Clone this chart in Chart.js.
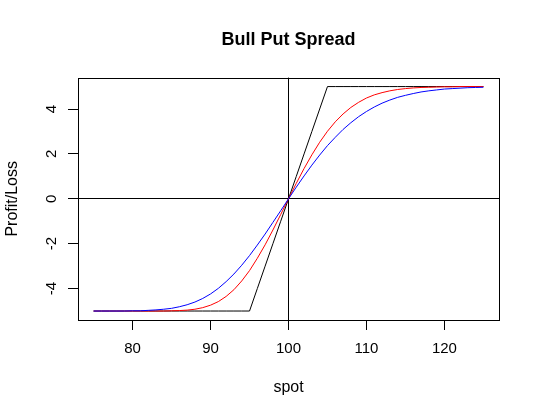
<!DOCTYPE html>
<html lang="en">
<head>
  <meta charset="utf-8" />
  <title>Bull Put Spread</title>
  <script src="https://cdn.jsdelivr.net/npm/chart.js"></script>
  <style>
    body { margin: 0; background: #fff; }
    canvas { display: block; }
  </style>
</head>
<body>
<canvas id="spreadChart" width="540" height="418"></canvas>

<script>
// spot prices on the x axis
const spot = [75, 76, 77, 78, 79, 80, 81, 82, 83, 84, 85, 86, 87, 88, 89, 90, 91, 92, 93, 94,
  95, 96, 97, 98, 99, 100, 101, 102, 103, 104, 105, 106, 107, 108, 109, 110, 111, 112, 113, 114,
  115, 116, 117, 118, 119, 120, 121, 122, 123, 124, 125];

// profit/loss at expiry (black)
const atExpiry = [-5, -5, -5, -5, -5, -5, -5, -5, -5, -5, -5, -5, -5, -5, -5, -5, -5, -5, -5, -5,
  -5, -4, -3, -2, -1, 0, 1, 2, 3, 4, 5, 5, 5, 5, 5, 5, 5, 5, 5, 5,
  5, 5, 5, 5, 5, 5, 5, 5, 5, 5, 5];

// profit/loss before expiry, shorter time left (red)
const nearTerm = [-5, -5, -5, -5, -5, -5, -5, -5, -5, -5, -4.99, -4.98, -4.96, -4.92, -4.85, -4.74, -4.58, -4.35, -4.05, -3.66,
  -3.20, -2.65, -2.05, -1.39, -0.70, 0, 0.69, 1.35, 1.96, 2.52, 3.01, 3.43, 3.78, 4.07, 4.30, 4.49, 4.63, 4.73, 4.81, 4.87,
  4.91, 4.94, 4.96, 4.97, 4.98, 4.99, 4.99, 5, 5, 5, 5];

// profit/loss before expiry, longer time left (blue)
const farTerm = [-5, -5, -5, -5, -5, -4.99, -4.99, -4.97, -4.95, -4.92, -4.88, -4.81, -4.72, -4.60, -4.44, -4.24, -3.99, -3.69, -3.35, -2.96,
  -2.53, -2.06, -1.57, -1.05, -0.53, 0, 0.52, 1.02, 1.50, 1.95, 2.37, 2.74, 3.09, 3.39, 3.66, 3.89, 4.09, 4.26, 4.40, 4.52,
  4.61, 4.69, 4.76, 4.81, 4.85, 4.89, 4.91, 4.93, 4.95, 4.96, 4.97];

const xTicks = [80, 90, 100, 110, 120];
const yTicks = [-4, -2, 0, 2, 4];

const FONT = 'Arial, "Liberation Sans", sans-serif';
Chart.defaults.font.family = FONT;
Chart.defaults.color = '#000';

// plot box round the chart area
const frame = {
  id: 'frame',
  afterDatasetsDraw(chart) {
    const a = chart.chartArea, c = chart.ctx;
    c.save();
    c.strokeStyle = '#000';
    c.lineWidth = 1;
    c.strokeRect(Math.round(a.left) + 0.5, Math.round(a.top) + 0.5,
      Math.round(a.right - a.left), Math.round(a.bottom - a.top));
    c.restore();
  }
};

function line(data, color) {
  return { data, borderColor: color, borderWidth: 1, pointRadius: 0, tension: 0, fill: false };
}

new Chart(document.getElementById('spreadChart'), {
  type: 'line',
  data: {
    labels: spot,
    datasets: [line(farTerm, '#0000FF'), line(nearTerm, '#FF0000'), line(atExpiry, '#000000')]
  },
  plugins: [frame],
  options: {
    responsive: false,
    animation: false,
    devicePixelRatio: 1,
    layout: { padding: { top: 0, left: 0, right: 41, bottom: 0 } },
    plugins: {
      legend: { display: false },
      tooltip: { enabled: false },
      title: {
        display: true,
        fullSize: false,
        text: 'Bull Put Spread',
        color: '#000',
        font: { size: 18, weight: 'bold' },
        padding: { top: 29, bottom: 27 }
      }
    },
    scales: {
      x: {
        type: 'linear',
        min: 73,
        max: 127,
        afterBuildTicks: s => { s.ticks = xTicks.map(v => ({ value: v })); },
        afterFit: s => { s.height = 98; },
        border: { display: false },
        grid: {
          drawOnChartArea: true,
          color: c => (c.tick && c.tick.value === 100 ? '#000' : 'rgba(0,0,0,0)'),
          tickColor: '#000',
          tickLength: 10,
          lineWidth: 1
        },
        ticks: { font: { size: 15 }, padding: 10, maxRotation: 0, callback: v => String(v) },
        title: { display: true, text: 'spot', font: { size: 16 }, padding: { top: 0, bottom: 21 } }
      },
      y: {
        min: -5.4,
        max: 5.4,
        afterBuildTicks: s => { s.ticks = yTicks.map(v => ({ value: v })); },
        afterFit: s => { s.width = 78; },
        border: { display: false },
        grid: {
          drawOnChartArea: true,
          color: c => (c.tick && c.tick.value === 0 ? '#000' : 'rgba(0,0,0,0)'),
          tickColor: '#000',
          tickLength: 10,
          lineWidth: 1
        },
        ticks: {
          font: { size: 15 },
          padding: 9,
          minRotation: 90,
          maxRotation: 90,
          crossAlign: 'center',
          callback: v => String(v)
        },
        title: { display: true, text: 'Profit/Loss', font: { size: 16 }, padding: { top: 3, bottom: 0 } }
      }
    }
  }
});
</script>
</body>
</html>
